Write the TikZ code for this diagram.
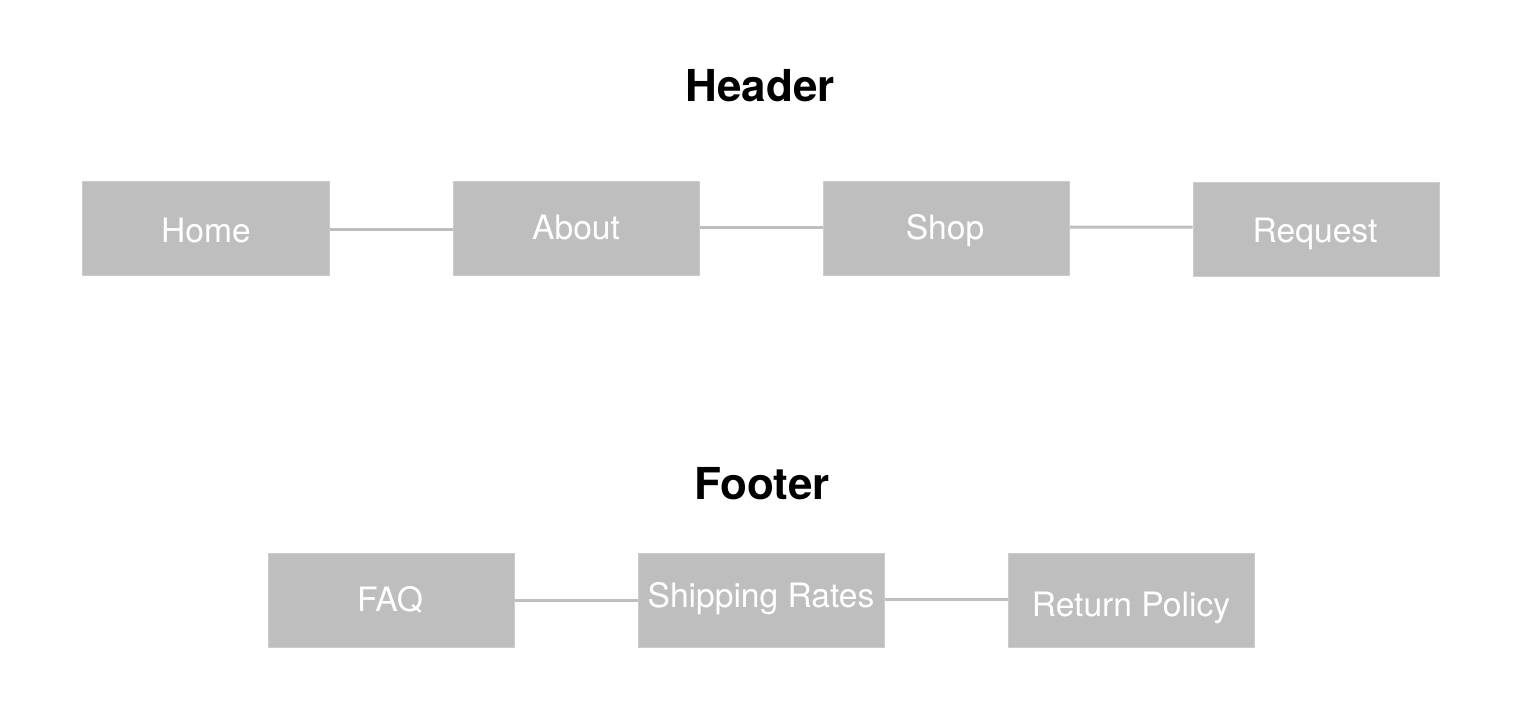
\documentclass[tikz,border=0pt]{standalone}
\usepackage{fontspec}
\setmainfont{TeX Gyre Heros}
\definecolor{boxgray}{HTML}{BEBEBE}
\definecolor{edgegray}{HTML}{CCCCCC}
\begin{document}
\begin{tikzpicture}[x=1bp,y=-1bp,
  navbox/.style={rectangle, fill=boxgray, draw=edgegray, line width=1bp,
    minimum width=246bp, minimum height=94bp, inner sep=0pt},
  navtext/.style={anchor=base, text=white, inner sep=0pt,
    font=\fontsize{33.6bp}{40bp}\selectfont},
  titletext/.style={anchor=base, text=black, inner sep=0pt,
    font=\fontsize{44bp}{52bp}\selectfont\bfseries},
  link/.style={draw=boxgray, line width=3bp}]
\useasboundingbox (0,0) rectangle (1516,714);
% titles
\node[titletext] (header) at (760,101.7) {Header};
\node[titletext] (footer) at (762,499.3) {Footer};
% header boxes
\node[navbox] (home) at (206,228) {};
\node[navbox] (about) at (576,228) {};
\node[navbox] (shop) at (946,228) {};
\node[navbox] (request) at (1316,229) {};
% footer boxes
\node[navbox] (faq) at (391,600) {};
\node[navbox] (shipping) at (761,600) {};
\node[navbox] (return) at (1131,600) {};
% connectors
\draw[link] ([yshift=-1bp]home.east) -- ([yshift=-1bp]about.west);
\draw[link] ([yshift=1bp]about.east) -- ([yshift=1bp]shop.west);
\draw[link] ([yshift=1bp]shop.east) -- ([yshift=2bp]request.west);
\draw[link] (faq.east) -- (shipping.west);
\draw[link] ([yshift=1bp]shipping.east) -- ([yshift=1bp]return.west);
% labels
\node[navtext] (homet) at (206,242) {Home};
\node[navtext] (aboutt) at (576,239) {About};
\node[navtext] (shopt) at (945,239) {Shop};
\node[navtext] (requestt) at (1315,242) {Request};
\node[navtext] (faqt) at (390,611) {FAQ};
\node[navtext] (shippingt) at (761,607) {Shipping Rates};
\node[navtext] (returnt) at (1131,616) {Return Policy};
\end{tikzpicture}
\end{document}
